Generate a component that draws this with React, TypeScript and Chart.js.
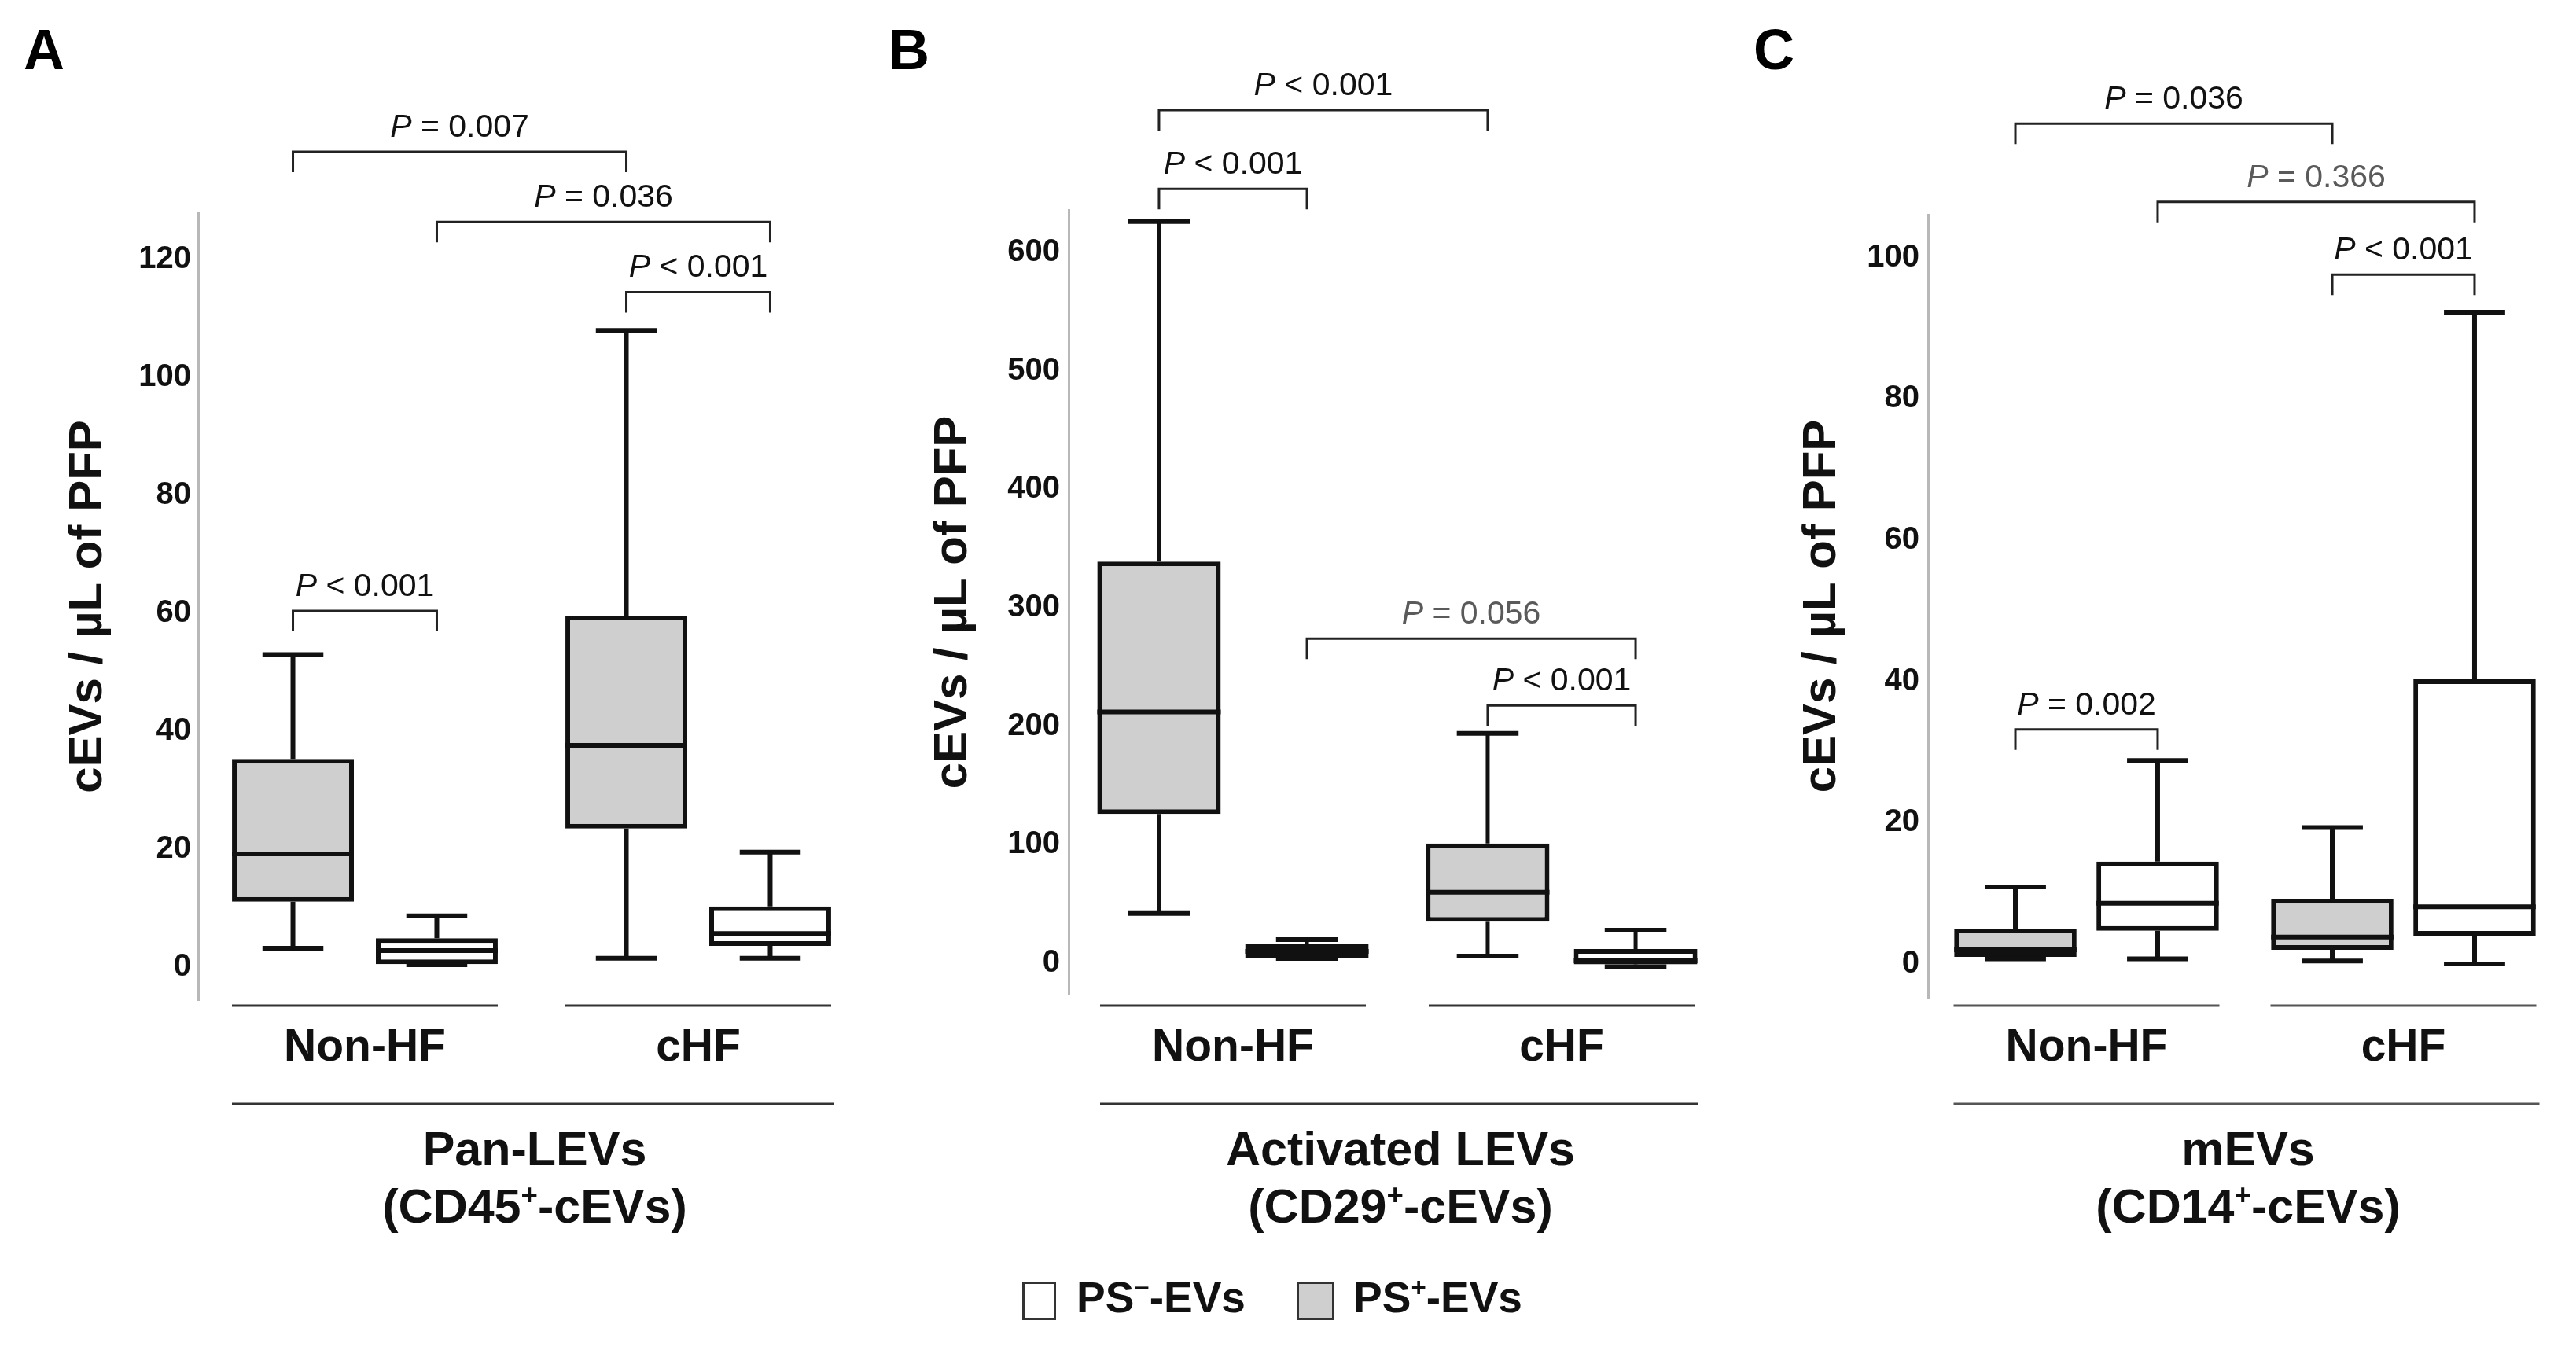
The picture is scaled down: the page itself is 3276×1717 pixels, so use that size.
import React, { useEffect, useRef } from 'react';
import { Chart, registerables } from 'chart.js';
Chart.register(...registerables);

const FONT = '"Liberation Sans", Arial, Helvetica, sans-serif';
const PAGE_W = 3276;
const PAGE_H = 1717;

// ---------- data ----------
const groups = ['Non-HF', 'cHF'];
const seriesLabels = ['PS⁺-EVs', 'PS⁻-EVs'];
const yTitle = 'cEVs / µL of PFP';

// five-number summaries per group: [min, Q1, median, Q3, max]
const panA_psPos = [[3.2, 11.1, 19.2, 35.3, 53.0], [1.5, 23.5, 37.6, 59.6, 108.0]];
const panA_psNeg = [[0.4, 0.5, 2.8, 4.9, 8.7], [1.5, 3.6, 5.7, 10.3, 19.5]];
const panA_ticks = [0, 20, 40, 60, 80, 100, 120];

const panB_psPos = [[42, 126, 212, 339, 626], [6, 35, 60, 101, 194]];
const panB_psNeg = [[4, 4, 10, 16, 20], [-3, -1, 2, 12, 28]];
const panB_ticks = [0, 100, 200, 300, 400, 500, 600];

const panC_psPos = [[0.7, 1.0, 2.0, 5.0, 10.9], [0.4, 2.0, 3.8, 9.2, 19.3]];
const panC_psNeg = [[0.7, 4.7, 8.6, 14.5, 28.8], [0.0, 4.0, 8.1, 40.3, 92.3]];
const panC_ticks = [0, 20, 40, 60, 80, 100];

// comparison brackets; box index: 0 Non-HF PS+, 1 Non-HF PS−, 2 cHF PS+, 3 cHF PS−
const panA_brackets = [
  { from: 0, to: 2, at: 138.3, text: ' = 0.007', muted: false },
  { from: 1, to: 3, at: 126.4, text: ' = 0.036', muted: false },
  { from: 2, to: 3, at: 114.5, text: ' < 0.001', muted: false },
  { from: 0, to: 1, at: 60.4, text: ' < 0.001', muted: false },
];
const panB_brackets = [
  { from: 0, to: 2, at: 720, text: ' < 0.001', muted: false },
  { from: 0, to: 1, at: 653.6, text: ' < 0.001', muted: false },
  { from: 1, to: 3, at: 274, text: ' = 0.056', muted: true },
  { from: 2, to: 3, at: 217.6, text: ' < 0.001', muted: false },
];
const panC_brackets = [
  { from: 0, to: 2, at: 119, text: ' = 0.036', muted: false },
  { from: 1, to: 3, at: 107.9, text: ' = 0.366', muted: true },
  { from: 2, to: 3, at: 97.6, text: ' < 0.001', muted: false },
  { from: 0, to: 1, at: 33.2, text: ' = 0.002', muted: false },
];

const panA_titles = ['Pan-LEVs', ['(CD45', '+', '-cEVs)']];
const panB_titles = ['Activated LEVs', ['(CD29', '+', '-cEVs)']];
const panC_titles = ['mEVs', ['(CD14', '+', '-cEVs)']];

// ---------- layout / style ----------
const panels = [
  {
    letter: 'A', pos: panA_psPos, neg: panA_psNeg, ticks: panA_ticks, brackets: panA_brackets, titles: panA_titles,
    left: 0, width: 1100, chartLeft: 252, padRight: 0, top: 271, bottom: 1272, min: -5.6, max: 127.9,
    cp: 0.863, bp: 0.847, tickPad: 9, titlePad: 76, lineW: 6, whiskW: 6, underColor: '#333',
  },
  {
    letter: 'B', pos: panB_psPos, neg: panB_psNeg, ticks: panB_ticks, brackets: panB_brackets, titles: panB_titles,
    left: 1100, width: 1100, chartLeft: 259, padRight: 5, top: 267, bottom: 1265, min: -26.5, max: 635.8,
    cp: 0.9, bp: 0.835, tickPad: 11, titlePad: 76, lineW: 6, whiskW: 5, underColor: '#333',
  },
  {
    letter: 'C', pos: panC_psPos, neg: panC_psNeg, ticks: panC_ticks, brackets: panC_brackets, titles: panC_titles,
    left: 2200, width: 1076, chartLeft: 252, padRight: 18, top: 273, bottom: 1269, min: -4.8, max: 106.1,
    cp: 0.898, bp: 0.86, tickPad: 11, titlePad: 81, lineW: 6, whiskW: 6, underColor: '#555',
  },
];

type Seg = { t: string; style?: string; weight?: string; scale?: number; rise?: number };

function drawRich(ctx: CanvasRenderingContext2D, segs: Seg[], size: number, cx: number, baseline: number, color: string) {
  const fontOf = (s: Seg) => `${s.style || 'normal'} ${s.weight || 'normal'} ${size * (s.scale || 1)}px ${FONT}`;
  let total = 0;
  const widths = segs.map((s) => {
    ctx.font = fontOf(s);
    const w = ctx.measureText(s.t).width;
    total += w;
    return w;
  });
  let x = cx - total / 2;
  ctx.fillStyle = color;
  ctx.textAlign = 'left';
  ctx.textBaseline = 'alphabetic';
  segs.forEach((s, i) => {
    ctx.font = fontOf(s);
    ctx.fillText(s.t, x, baseline - (s.rise || 0) * size);
    x += widths[i];
  });
}

function line(ctx: CanvasRenderingContext2D, x1: number, y1: number, x2: number, y2: number) {
  ctx.beginPath();
  ctx.moveTo(x1, y1);
  ctx.lineTo(x2, y2);
  ctx.stroke();
}

function makePlugin(cfg: any) {
  return {
    id: 'boxDecor' + cfg.letter,
    afterDatasetsDraw(chart: any) {
      const ctx: CanvasRenderingContext2D = chart.ctx;
      const y = chart.scales.y;
      const py = (v: number) => y.getPixelForValue(v);
      ctx.save();
      ctx.strokeStyle = '#111';
      ctx.lineCap = 'butt';
      [cfg.pos, cfg.neg].forEach((stats: number[][], di: number) => {
        const meta = chart.getDatasetMeta(di);
        meta.data.forEach((el: any, i: number) => {
          const [mn, q1, md, q3, mx] = stats[i];
          const x = el.x;
          const half = el.width / 2;
          const cap = el.width / 4;
          ctx.lineWidth = cfg.whiskW;
          line(ctx, x, py(q3), x, py(mx));
          line(ctx, x, py(q1), x, py(mn));
          ctx.lineWidth = cfg.lineW;
          line(ctx, x - cap, py(mx), x + cap, py(mx));
          line(ctx, x - cap, py(mn), x + cap, py(mn));
          line(ctx, x - half, py(md), x + half, py(md));
        });
      });
      ctx.restore();
    },
    afterDraw(chart: any) {
      const ctx: CanvasRenderingContext2D = chart.ctx;
      const y = chart.scales.y;
      const xs = chart.scales.x;
      const boxX = (idx: number) => chart.getDatasetMeta(idx % 2).data[Math.floor(idx / 2)].x;
      ctx.save();
      // panel letter
      ctx.fillStyle = '#000';
      ctx.font = `bold 72px ${FONT}`;
      ctx.textAlign = 'left';
      ctx.textBaseline = 'alphabetic';
      ctx.fillText(cfg.letter, 30, 88);

      // brackets
      cfg.brackets.forEach((b: any) => {
        const x1 = boxX(b.from);
        const x2 = boxX(b.to);
        const yy = y.getPixelForValue(b.at);
        ctx.strokeStyle = '#222';
        ctx.lineWidth = 3;
        ctx.beginPath();
        ctx.moveTo(x1, yy + 26);
        ctx.lineTo(x1, yy);
        ctx.lineTo(x2, yy);
        ctx.lineTo(x2, yy + 26);
        ctx.stroke();
        drawRich(ctx, [{ t: 'P', style: 'italic' }, { t: b.text }], 41, (x1 + x2) / 2, yy - 19, b.muted ? '#5a5a5a' : '#111');
      });

      // group underlines and labels
      const c0 = xs.getPixelForValue(0);
      const c1 = xs.getPixelForValue(1);
      ctx.strokeStyle = cfg.underColor;
      ctx.lineWidth = 3;
      groups.forEach((g, i) => {
        const c = xs.getPixelForValue(i);
        line(ctx, c - 169, 1279, c + 169, 1279);
        drawRich(ctx, [{ t: g, weight: 'bold' }], 57, c, 1349, '#111');
      });
      line(ctx, c0 - 169, 1404, c1 + 173, 1404);
      const mid = (c0 + c1) / 2 + 4;
      drawRich(ctx, [{ t: cfg.titles[0], weight: 'bold' }], 61, mid, 1482, '#111');
      const t2 = cfg.titles[1];
      drawRich(ctx, [
        { t: t2[0], weight: 'bold' },
        { t: t2[1], weight: 'bold', scale: 0.6, rise: 0.38 },
        { t: t2[2], weight: 'bold' },
      ], 61, mid, 1555, '#111');
      ctx.restore();
    },
  };
}

function Panel({ cfg }: { cfg: any }) {
  const ref = useRef<HTMLCanvasElement | null>(null);
  useEffect(() => {
    if (!ref.current) return;
    const chart = new Chart(ref.current, {
      type: 'bar',
      data: {
        labels: groups,
        datasets: [
          {
            label: seriesLabels[0],
            data: cfg.pos.map((s: number[]) => [s[1], s[3]]),
            backgroundColor: '#cfcfcf',
            borderColor: '#111',
            borderWidth: cfg.lineW,
            borderSkipped: false,
            categoryPercentage: cfg.cp,
            barPercentage: cfg.bp,
          },
          {
            label: seriesLabels[1],
            data: cfg.neg.map((s: number[]) => [s[1], s[3]]),
            backgroundColor: '#ffffff',
            borderColor: '#111',
            borderWidth: cfg.lineW,
            borderSkipped: false,
            categoryPercentage: cfg.cp,
            barPercentage: cfg.bp,
          },
        ],
      } as any,
      options: {
        animation: false,
        responsive: false,
        maintainAspectRatio: false,
        events: [],
        layout: { padding: { left: 0, right: cfg.padRight, top: cfg.top, bottom: PAGE_H - cfg.bottom } },
        plugins: { legend: { display: false }, tooltip: { enabled: false } },
        scales: {
          x: { display: false, offset: true, grid: { display: false } },
          y: {
            min: cfg.min,
            max: cfg.max,
            afterFit: (s: any) => { s.width = cfg.chartLeft; },
            afterBuildTicks: (s: any) => { s.ticks = cfg.ticks.map((v: number) => ({ value: v })); },
            ticks: { font: { family: FONT, size: 40, weight: 'bold' }, color: '#111', padding: cfg.tickPad },
            grid: { display: false, drawTicks: false },
            border: { display: true, color: '#b8b8b8', width: 3 },
            title: {
              display: true,
              text: yTitle,
              font: { family: FONT, size: 60, weight: 'bold' },
              color: '#111',
              padding: { top: cfg.titlePad, bottom: 0 },
            },
          },
        },
      } as any,
      plugins: [makePlugin(cfg)],
    });
    return () => chart.destroy();
  }, [cfg]);
  return (
    <canvas
      ref={ref}
      width={cfg.width}
      height={PAGE_H}
      style={{ position: 'absolute', left: cfg.left, top: 0, width: cfg.width, height: PAGE_H }}
    />
  );
}

export default function App() {
  const legendText: React.CSSProperties = {
    position: 'absolute', top: 1654, transform: 'translateY(-50%)', font: `bold 55px ${FONT}`,
    lineHeight: '55px', color: '#111', whiteSpace: 'nowrap',
  };
  const sup: React.CSSProperties = { fontSize: '0.6em', position: 'relative', top: '-0.6em' };
  return (
    <div style={{ position: 'absolute', left: 0, top: 0, width: PAGE_W, height: PAGE_H, background: '#fff', overflow: 'hidden' }}>
      {panels.map((p) => <Panel key={p.letter} cfg={p} />)}
      <div style={{ position: 'absolute', left: 1300, top: 1630, width: 43, height: 49, border: '3px solid #333', boxSizing: 'border-box', background: '#fff' }} />
      <div style={{ ...legendText, left: 1369 }}>PS<span style={sup}>−</span>-EVs</div>
      <div style={{ position: 'absolute', left: 1649, top: 1630, width: 48, height: 49, border: '3px solid #333', boxSizing: 'border-box', background: '#cfcfcf' }} />
      <div style={{ ...legendText, left: 1721 }}>PS<span style={sup}>+</span>-EVs</div>
    </div>
  );
}
